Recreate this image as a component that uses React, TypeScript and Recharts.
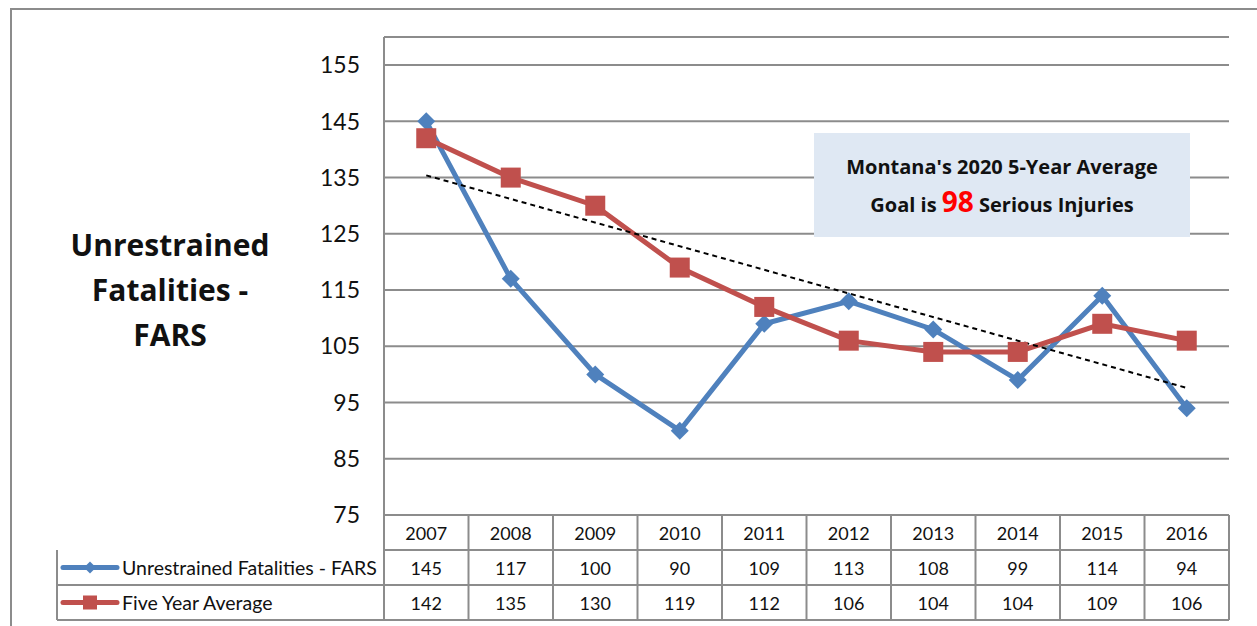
import React from "react";
import { LineChart, Line, XAxis, YAxis, CartesianGrid, ReferenceLine } from "recharts";

const years = ["2007", "2008", "2009", "2010", "2011", "2012", "2013", "2014", "2015", "2016"];
const unrestrained = [145, 117, 100, 90, 109, 113, 108, 99, 114, 94];
const fiveYearAvg = [142, 135, 130, 119, 112, 106, 104, 104, 109, 106];
const yTicks = [75, 85, 95, 105, 115, 125, 135, 145, 155];
const trendStart = 135.4;
const trendEnd = 97.6;

const BLUE = "#4f81bd";
const RED = "#c0504d";
const GRID = "#8c8c8c";
const FONT = "Lato, 'Open Sans', sans-serif";
const BOLD_FONT = "'Open Sans', Lato, sans-serif";

// plot / table geometry
const PLOT_LEFT = 384;
const PLOT_RIGHT = 1229;
const PLOT_TOP = 37;
const PLOT_BOTTOM = 515;
const COL_W = (PLOT_RIGHT - PLOT_LEFT) / years.length;
const TABLE_LEFT = 57;
const ROW_H = 35;

const data = years.map((year, i) => ({
  year,
  fars: unrestrained[i],
  avg: fiveYearAvg[i],
}));

const Diamond = (props: any) => {
  const { cx, cy, index } = props;
  if (cx == null || cy == null) return <g key={index} />;
  const r = 9;
  return (
    <polygon
      key={index}
      points={`${cx},${cy - r} ${cx + r},${cy} ${cx},${cy + r} ${cx - r},${cy}`}
      fill={BLUE}
    />
  );
};

const Square = (props: any) => {
  const { cx, cy, index } = props;
  if (cx == null || cy == null) return <g key={index} />;
  const s = 10;
  return <rect key={index} x={cx - s} y={cy - s} width={s * 2} height={s * 2} fill={RED} />;
};

function DataTable() {
  const rows = [
    { label: null, values: years },
    { label: "Unrestrained Fatalities - FARS", values: unrestrained, color: BLUE, shape: "diamond" },
    { label: "Five Year Average", values: fiveYearAvg, color: RED, shape: "square" },
  ];
  const bottom = PLOT_BOTTOM + ROW_H * rows.length;
  return (
    <svg
      width={1257}
      height={626}
      style={{ position: "absolute", left: 0, top: 0, pointerEvents: "none" }}
    >
      <g stroke={GRID} strokeWidth={2}>
        {rows.map((_, r) => (
          <line
            key={"h" + r}
            x1={r === 0 ? PLOT_LEFT : TABLE_LEFT}
            x2={PLOT_RIGHT}
            y1={PLOT_BOTTOM + ROW_H * (r + 1)}
            y2={PLOT_BOTTOM + ROW_H * (r + 1)}
          />
        ))}
        <line x1={TABLE_LEFT} x2={TABLE_LEFT} y1={PLOT_BOTTOM + ROW_H} y2={bottom} />
        {Array.from({ length: years.length + 1 }, (_, k) => (
          <line
            key={"v" + k}
            x1={PLOT_LEFT + COL_W * k}
            x2={PLOT_LEFT + COL_W * k}
            y1={PLOT_BOTTOM}
            y2={bottom}
          />
        ))}
      </g>
      {rows.map((row, r) => {
        const cy = PLOT_BOTTOM + ROW_H * r + ROW_H / 2;
        return (
          <g key={"r" + r} fontFamily={FONT} fill="#111">
            {row.values.map((v, i) => (
              <text
                key={i}
                x={PLOT_LEFT + COL_W * (i + 0.5)}
                y={cy}
                textAnchor="middle"
                dominantBaseline="central"
                fontSize={18}
              >
                {v}
              </text>
            ))}
            {row.label && (
              <g>
                <line
                  x1={TABLE_LEFT + 6}
                  x2={TABLE_LEFT + 60}
                  y1={cy}
                  y2={cy}
                  stroke={row.color}
                  strokeWidth={5}
                  strokeLinecap="round"
                />
                {row.shape === "diamond" ? (
                  <polygon
                    points={`${TABLE_LEFT + 33},${cy - 6} ${TABLE_LEFT + 39},${cy} ${TABLE_LEFT + 33},${cy + 6} ${TABLE_LEFT + 27},${cy}`}
                    fill={row.color}
                  />
                ) : (
                  <rect x={TABLE_LEFT + 26} y={cy - 7} width={14} height={14} fill={row.color} />
                )}
                <text x={TABLE_LEFT + 65} y={cy} dominantBaseline="central" fontSize={19.5}>
                  {row.label}
                </text>
              </g>
            )}
          </g>
        );
      })}
    </svg>
  );
}

export default function App() {
  return (
    <div
      style={{
        position: "absolute",
        left: 0,
        top: 0,
        width: 1257,
        height: 626,
        overflow: "hidden",
        background: "#fff",
      }}
    >
      <div
        style={{
          position: "absolute",
          left: 10,
          top: 8,
          width: 1400,
          height: 800,
          border: `2px solid ${GRID}`,
        }}
      />
      <div style={{ position: "absolute", left: 0, top: 0 }}>
        <LineChart
          width={1257}
          height={626}
          data={data}
          margin={{ top: PLOT_TOP, right: 1257 - PLOT_RIGHT, bottom: 626 - PLOT_BOTTOM, left: 0 }}
        >
          <CartesianGrid horizontal vertical={false} stroke={GRID} strokeWidth={2} />
          <XAxis
            dataKey="year"
            axisLine={false}
            tickLine={false}
            tick={false}
            height={0}
            padding={{ left: COL_W / 2, right: COL_W / 2 }}
          />
          <YAxis
            domain={[75, 160]}
            ticks={yTicks}
            width={PLOT_LEFT}
            axisLine={{ stroke: GRID, strokeWidth: 2 }}
            tickLine={false}
            tickSize={0}
            tickMargin={24}
            tick={{ fontSize: 23, fill: "#111", fontFamily: FONT }}
          />
          <Line
            dataKey="fars"
            stroke={BLUE}
            strokeWidth={5}
            dot={Diamond}
            activeDot={false}
            isAnimationActive={false}
          />
          <Line
            dataKey="avg"
            stroke={RED}
            strokeWidth={5}
            dot={Square}
            activeDot={false}
            isAnimationActive={false}
          />
          <ReferenceLine
            segment={[
              { x: years[0], y: trendStart },
              { x: years[years.length - 1], y: trendEnd },
            ]}
            stroke="#000"
            strokeWidth={2}
            strokeDasharray="5 4"
          />
        </LineChart>
      </div>
      <DataTable />
      <div
        style={{
          position: "absolute",
          left: 40,
          top: 222,
          width: 260,
          textAlign: "center",
          fontFamily: BOLD_FONT,
          fontWeight: 700,
          fontSize: 30,
          lineHeight: "45px",
          color: "#111",
        }}
      >
        Unrestrained
        <br />
        Fatalities -
        <br />
        FARS
      </div>
      <div
        style={{
          position: "absolute",
          left: 814,
          top: 133,
          width: 376,
          height: 104,
          background: "#dfe8f3",
          fontFamily: BOLD_FONT,
          fontWeight: 700,
          fontSize: 20,
          color: "#111",
          textAlign: "center",
          boxSizing: "border-box",
          paddingTop: 17,
          lineHeight: "34px",
        }}
      >
        Montana's 2020 5-Year Average
        <br />
        Goal is <span style={{ color: "#ff0000", fontSize: 28 }}>98</span> Serious Injuries
      </div>
    </div>
  );
}
